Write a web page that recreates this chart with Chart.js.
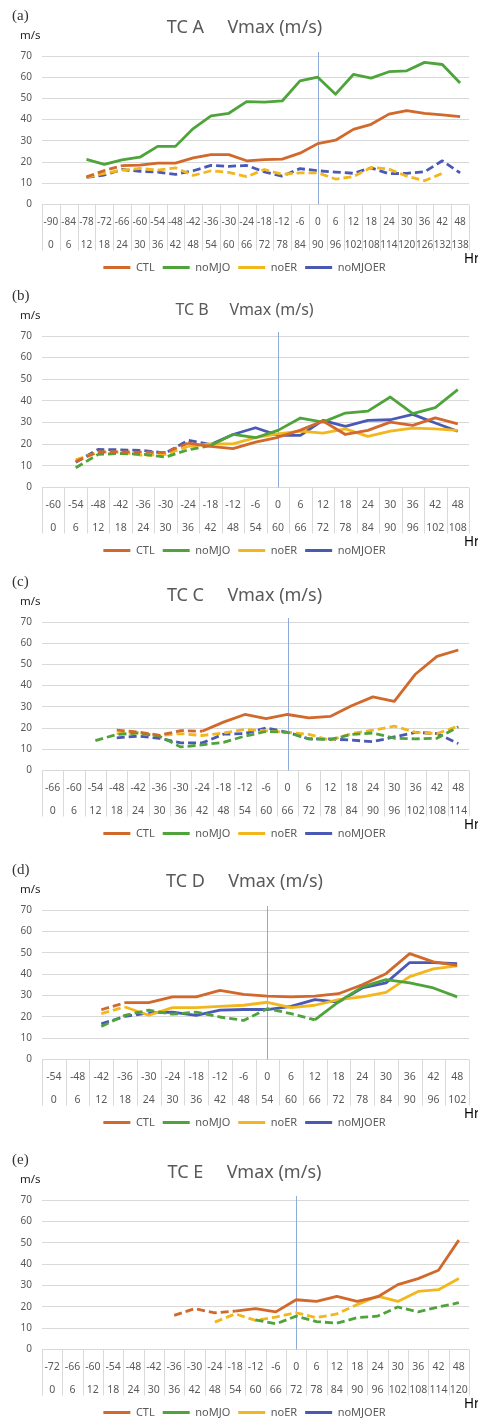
<!DOCTYPE html>
<html>
<head>
<meta charset="utf-8">
<script src="https://cdn.jsdelivr.net/npm/chart.js@4.4.1/dist/chart.umd.min.js"></script>
<style>
  html, body { margin: 0; padding: 0; background: #fff; overflow: hidden; }
  .panel { position: absolute; left: 0; width: 478px; }
</style>
</head>
<body>
<div class="panel" style="top:0px"><canvas id="chartA" width="478" height="283"></canvas></div>
<div class="panel" style="top:280px"><canvas id="chartB" width="478" height="286"></canvas></div>
<div class="panel" style="top:566px"><canvas id="chartC" width="478" height="283"></canvas></div>
<div class="panel" style="top:854px"><canvas id="chartD" width="478" height="284"></canvas></div>
<div class="panel" style="top:1144px"><canvas id="chartE" width="478" height="284"></canvas></div>
<script>
const seriesNames = ['CTL', 'noMJO', 'noER', 'noMJOER'];
const seriesColors = ['#d0692b', '#4fa33b', '#f2b71d', '#4a59b5'];

// TC A: hours relative to 0 (top row) and hours from start (bottom row)
const hoursA = [-90,-84,-78,-72,-66,-60,-54,-48,-42,-36,-30,-24,-18,-12,-6,0,6,12,18,24,30,36,42,48];
const startA = [0,6,12,18,24,30,36,42,48,54,60,66,72,78,84,90,96,102,108,114,120,126,132,138];
const ctlA = [null,null,13,16,18.3,18.6,19.5,19.5,22,23.5,23.5,20.6,21.2,21.4,24.2,28.7,30.3,35.4,37.8,42.6,44.3,43,42.2,41.4];
const noMJOA = [null,null,21.3,18.9,21,22.3,27.4,27.4,35.8,41.8,43,48.5,48.3,48.8,58.3,60,52,61.3,59.6,62.6,63,67,66,57.3];
const noERA = [null,null,12.8,14.7,16.2,17,16.2,17.3,13.7,15.9,15.1,13.1,16.5,14.2,14.9,14.9,12,13.1,17.5,16.7,13.4,11.2,14.7,null];
const noMJOERA = [null,null,12.8,13.9,16.5,15.6,15.3,14.2,15.9,18.4,18,18.4,15.4,13.4,16.9,15.9,15.3,14.7,17.3,14.5,14.7,15.4,20.6,14.9];
const dashEndA = [-66, null, 48, 48]; // last hour drawn dashed, per series

// TC B
const hoursB = [-60,-54,-48,-42,-36,-30,-24,-18,-12,-6,0,6,12,18,24,30,36,42,48];
const startB = [0,6,12,18,24,30,36,42,48,54,60,66,72,78,84,90,96,102,108];
const ctlB = [null,12,16.5,16.5,16.3,16.2,20.5,19,18,21,23.2,26.5,30.7,24.5,26.4,30.2,28.7,32.2,29.4];
const noMJOB = [null,9.1,15.3,15.7,15.3,14.1,17.4,19.4,24.5,23,26.4,32.1,30.2,34.4,35.3,41.8,34.1,36.9,45.2];
const noERB = [null,12.8,16.3,16.3,14.8,15.3,19,20.2,20.2,23,24.8,26,25.1,27.1,23.6,26,27.4,27.1,26.4];
const noMJOERB = [null,11.7,17.6,17.4,17.1,15.9,21.8,19.9,24.5,27.6,24.1,24.1,31,28.2,31,31.3,33.8,29.8,26];
const dashEndB = [-24, -18, -24, -18];

// TC C
const hoursC = [-66,-60,-54,-48,-42,-36,-30,-24,-18,-12,-6,0,6,12,18,24,30,36,42,48];
const startC = [0,6,12,18,24,30,36,42,48,54,60,66,72,78,84,90,96,102,108,114];
const ctlC = [null,null,null,19,18.2,16.6,18.8,18.5,22.8,26.4,24.5,26.4,24.8,25.5,30.5,34.7,32.6,45.5,53.8,56.8];
const noMJOC = [null,null,14.1,17,17.7,16.2,11.1,12.1,13.3,16.2,18.4,18,14.9,14.6,17,17.7,15.2,14.9,15.2,20.6];
const noERC = [null,null,null,17.4,17.7,16.5,17.4,16.5,17.7,19.3,18.7,18,17,14.3,17.4,19,20.9,18,17.4,20.9];
const noMJOERC = [null,null,null,15.4,16.2,15.2,13,13,17.1,17.4,20.1,18,14.9,14.9,14.3,13.6,15.8,18,17.4,12.7];
const dashEndC = [-24, 48, 48, 48];

// TC D
const hoursD = [-54,-48,-42,-36,-30,-24,-18,-12,-6,0,6,12,18,24,30,36,42,48];
const startD = [0,6,12,18,24,30,36,42,48,54,60,66,72,78,84,90,96,102];
const ctlD = [null,null,23.3,26.6,26.6,29.3,29.3,32.4,30.5,29.7,29.3,29.7,30.8,35,40.2,49.6,45.7,44.1];
const noMJOD = [null,null,15.5,20.7,23.1,21.2,22.2,19.9,18.3,23.8,21.5,18.6,27,34,37.4,35.9,33.5,29.3];
const noERD = [null,null,21.5,24.6,20.7,24.3,24.3,24.9,25.4,26.8,24.3,25.4,28,29.3,31.4,38.8,42.4,43.8];
const noMJOERD = [null,null,16.7,20.2,21.8,22.2,20.7,23.1,23.4,23.4,24.9,28,26.9,33.5,35.9,45.4,45.4,44.9];
const dashEndD = [-36, 12, -36, -30];

// TC E
const hoursE = [-72,-66,-60,-54,-48,-42,-36,-30,-24,-18,-12,-6,0,6,12,18,24,30,36,42,48];
const startE = [0,6,12,18,24,30,36,42,48,54,60,66,72,78,84,90,96,102,108,114,120];
const ctlE = [null,null,null,null,null,null,16,19.1,17.2,18,19.1,17.6,23.3,22.5,24.9,22.5,24.6,30.4,33.2,37.1,51.2];
const noMJOE = [null,null,null,null,null,null,null,null,null,null,13.9,12,15.6,13.1,12.3,14.9,15.6,19.9,17.6,19.9,21.9];
const noERE = [null,null,null,null,null,null,null,null,12.8,16.7,13.6,15.2,17.2,14.9,16.7,21,25,22.5,27.2,28,33.2];
const noMJOERE = [null,null,null,null,null,null,null,null,null,null,null,null,null,null,null,null,null,null,null,null,null];
const dashEndE = [-18, 48, 18, null];

const yTicks = [0, 10, 20, 30, 40, 50, 60, 70];

// makes one panel; area top sits 56px below canvas top
function makePanel(id, letter, title, hours, start, series, dashEnd, opts) {
    const zeroIdx = hours.indexOf(0);
    const areaTop = 56;
    const padTop = areaTop - opts.titleOff - opts.titleSize * 0.6;
    const padBottom = areaTop - padTop - opts.titleSize * 1.2;

    const datasets = series.map((data, k) => ({
        label: seriesNames[k],
        data: data,
        borderColor: seriesColors[k],
        backgroundColor: seriesColors[k],
        borderWidth: 2.8,
        borderJoinStyle: 'round',
        pointRadius: 0,
        pointHoverRadius: 0,
        tension: 0,
        spanGaps: false,
        segment: {
            borderDash: ctx => (dashEnd[k] !== null && hours[ctx.p1DataIndex] <= dashEnd[k]) ? [8, 4] : undefined
        }
    }));

    const decor = {
        id: 'decor',
        beforeDatasetsDraw(chart) {
            const { ctx, chartArea: a, scales: { x } } = chart;
            const xz = Math.round(x.getPixelForValue(zeroIdx)) + 0.5;
            ctx.save();
            ctx.strokeStyle = '#8eaadb';
            ctx.lineWidth = 1;
            ctx.beginPath();
            ctx.moveTo(xz, a.top - 4);
            ctx.lineTo(xz, a.bottom);
            ctx.stroke();
            ctx.restore();
        },
        afterDraw(chart) {
            const { ctx, chartArea: a } = chart;
            const n = hours.length;
            const w = (a.right - a.left) / n;
            ctx.save();
            // table-like separators between the category labels
            ctx.strokeStyle = '#d9d9d9';
            ctx.lineWidth = 1;
            ctx.beginPath();
            for (let i = 0; i <= n; i++) {
                const px = Math.round(a.left + i * w) + 0.5;
                ctx.moveTo(px, a.bottom);
                ctx.lineTo(px, a.bottom + 46);
            }
            ctx.stroke();
            ctx.textBaseline = 'middle';
            ctx.fillStyle = '#222';
            ctx.font = '11.5px "Noto Sans"';
            ctx.fillText('m/s', 20, a.top - 20);
            ctx.fillStyle = '#000';
            ctx.font = '13.5px "Noto Sans"';
            ctx.fillText('Hr', 464, a.bottom + 55);
            ctx.fillStyle = '#333';
            ctx.font = '15px "Liberation Serif"';
            ctx.fillText(letter, 12, a.top - 40);
            ctx.restore();
        }
    };

    return new Chart(document.getElementById(id), {
        type: 'line',
        data: {
            labels: hours.map((h, i) => [String(h), String(start[i])]),
            datasets: datasets
        },
        options: {
            responsive: false,
            animation: false,
            events: [],
            layout: { padding: { left: 20, right: 9, top: 0, bottom: 0 } },
            plugins: {
                title: {
                    display: true,
                    text: title,
                    color: '#595959',
                    font: { family: 'Noto Sans', size: opts.titleSize, weight: 'normal', lineHeight: 1.2 },
                    padding: { top: padTop, bottom: padBottom }
                },
                legend: {
                    position: 'bottom',
                    labels: {
                        boxWidth: 27,
                        boxHeight: 3,
                        padding: 8,
                        color: '#595959',
                        font: { family: 'Noto Sans', size: 11 },
                        generateLabels: chart => Chart.defaults.plugins.legend.labels.generateLabels(chart)
                            .map(item => Object.assign(item, { lineWidth: 0, lineDash: [] }))
                    }
                },
                tooltip: { enabled: false }
            },
            scales: {
                x: {
                    type: 'category',
                    offset: true,
                    grid: { display: false },
                    border: { display: false },
                    ticks: {
                        autoSkip: false,
                        maxRotation: 0,
                        minRotation: 0,
                        padding: -1.5,
                        color: '#595959',
                        font: { family: 'Noto Sans', size: opts.tickSize, lineHeight: '23px' }
                    },
                    afterFit: s => { s.height = 49.5; }
                },
                y: {
                    min: yTicks[0],
                    max: yTicks[yTicks.length - 1],
                    afterBuildTicks: s => { s.ticks = yTicks.map(v => ({ value: v })); },
                    ticks: { padding: 10, color: '#595959', font: { family: 'Noto Sans', size: 10 } },
                    grid: { color: '#d9d9d9', drawTicks: false },
                    border: { display: false },
                    afterFit: s => { s.width = 22; }
                }
            }
        },
        plugins: [decor]
    });
}

makePanel('chartA', '(a)', 'TC A     Vmax (m/s)', hoursA, startA, [ctlA, noMJOA, noERA, noMJOERA], dashEndA, { titleSize: 18, titleOff: 28, tickSize: 10 });
makePanel('chartB', '(b)', 'TC B     Vmax (m/s)', hoursB, startB, [ctlB, noMJOB, noERB, noMJOERB], dashEndB, { titleSize: 16, titleOff: 25.5, tickSize: 10.5 });
makePanel('chartC', '(c)', 'TC C     Vmax (m/s)', hoursC, startC, [ctlC, noMJOC, noERC, noMJOERC], dashEndC, { titleSize: 18, titleOff: 26, tickSize: 10.5 });
makePanel('chartD', '(d)', 'TC D     Vmax (m/s)', hoursD, startD, [ctlD, noMJOD, noERD, noMJOERD], dashEndD, { titleSize: 18, titleOff: 28, tickSize: 10.5 });
makePanel('chartE', '(e)', 'TC E     Vmax (m/s)', hoursE, startE, [ctlE, noMJOE, noERE, noMJOERE], dashEndE, { titleSize: 18, titleOff: 27, tickSize: 10.5 });
</script>
</body>
</html>
